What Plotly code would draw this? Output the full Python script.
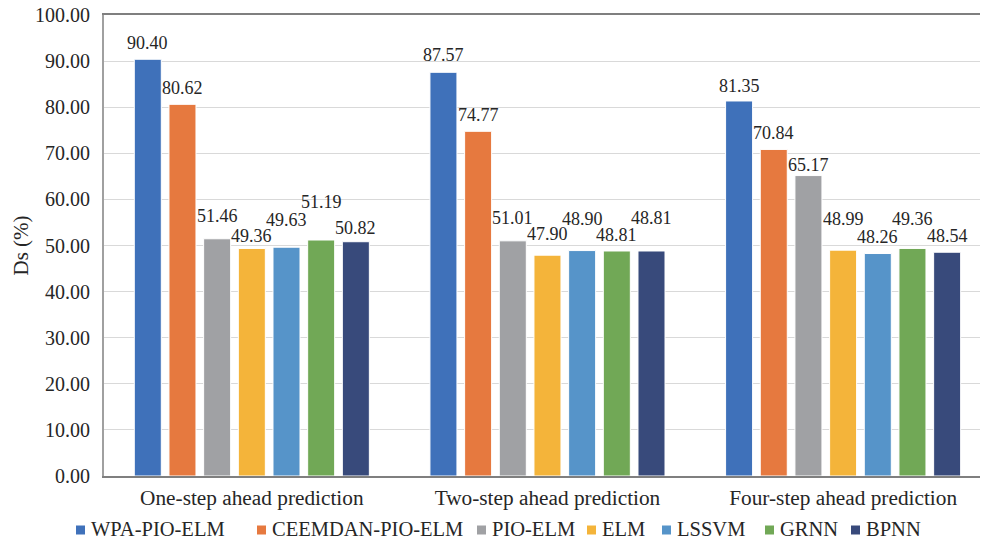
import plotly.graph_objects as go

# Prediction horizons (x categories)
horizons = ["One-step ahead prediction", "Two-step ahead prediction", "Four-step ahead prediction"]

# Model names and their Ds (%) per horizon
models = ["WPA-PIO-ELM", "CEEMDAN-PIO-ELM", "PIO-ELM", "ELM", "LSSVM", "GRNN", "BPNN"]
wpa_pio_elm = [90.40, 87.57, 81.35]
ceemdan_pio_elm = [80.62, 74.77, 70.84]
pio_elm = [51.46, 51.01, 65.17]
elm = [49.36, 47.90, 48.99]
lssvm = [49.63, 48.90, 48.26]
grnn = [51.19, 48.81, 49.36]
bpnn = [50.82, 48.81, 48.54]
series = [wpa_pio_elm, ceemdan_pio_elm, pio_elm, elm, lssvm, grnn, bpnn]

# y-axis tick values
y_ticks = [0, 10, 20, 30, 40, 50, 60, 70, 80, 90, 100]

# Styling
colors = ["#3F71BA", "#E6793F", "#A0A1A4", "#F4B43A", "#5694C9", "#71A856", "#384A7B"]
# Pixel lift of each value label above its bar (per model, per horizon) to keep labels apart
label_lift = [
    [16, 17, 15],
    [16, 16, 16.5],
    [23, 22.5, 11],
    [12.5, 20.7, 31.5],
    [27, 31.5, 17],
    [38, 16, 29],
    [13.5, 32.5, 16],
]
FONT = "Liberation Serif, Times New Roman, serif"
TEXT = "#262626"
BARGAP = 0.179
BARGROUPGAP = 0.221

# Figure / plot-area geometry in pixels
W, H = 981, 545
M_L, M_R, M_T, M_B = 104, 1, 15, 69
PLOT_W = W - M_L - M_R
PLOT_H = H - M_T - M_B
# Bottom legend: left pixel of each key square, and vertical centre
legend_key_px = [76, 257, 477, 587, 662, 765, 851]
legend_y_px = 530
KEY = 9  # key square size, px

fig = go.Figure()
for name, vals, col in zip(models, series, colors):
    fig.add_trace(go.Bar(
        name=name, x=horizons, y=vals, showlegend=False,
        marker=dict(color=col, line=dict(color="white", width=1)),
    ))

# Value labels placed over each grouped bar
n = len(models)
slot = (1 - BARGAP) / n
annotations = []
for j, (vals, lifts) in enumerate(zip(series, label_lift)):
    for i, (v, lift) in enumerate(zip(vals, lifts)):
        annotations.append(dict(
            x=i + (j - (n - 1) / 2) * slot, y=v, xref="x", yref="y",
            text=f"{v:.2f}", showarrow=False, yanchor="middle", yshift=lift,
            font=dict(family=FONT, size=18, color=TEXT),
        ))

# Horizontal legend drawn as key squares + labels below the axis
def px_to_paper_x(px):
    return (px - M_L) / PLOT_W

def px_to_paper_y(py):
    return (H - M_B - py) / PLOT_H

shapes = []
for name, col, kx in zip(models, colors, legend_key_px):
    shapes.append(dict(
        type="rect", xref="paper", yref="paper",
        x0=px_to_paper_x(kx), x1=px_to_paper_x(kx + KEY),
        y0=px_to_paper_y(legend_y_px + KEY / 2), y1=px_to_paper_y(legend_y_px - KEY / 2),
        fillcolor=col, line=dict(width=0),
    ))
    annotations.append(dict(
        x=px_to_paper_x(kx + KEY + 4), y=px_to_paper_y(legend_y_px - 1),
        xref="paper", yref="paper", xanchor="left", yanchor="middle",
        text=name, showarrow=False,
        font=dict(family=FONT, size=20.5, color=TEXT),
    ))

fig.update_layout(
    width=W, height=H,
    margin=dict(l=M_L, r=M_R, t=M_T, b=M_B),
    paper_bgcolor="white", plot_bgcolor="white",
    barmode="group", bargap=BARGAP, bargroupgap=BARGROUPGAP,
    font=dict(family=FONT, color=TEXT),
    annotations=annotations,
    shapes=shapes,
    showlegend=False,
    xaxis=dict(
        type="category", range=[-0.5, 2.463],
        showline=True, linecolor="#7F7F7F", linewidth=2, mirror=True,
        ticks="", tickfont=dict(family=FONT, size=21.3, color=TEXT),
        ticklabelstandoff=1,
        showgrid=False,
    ),
    yaxis=dict(
        range=[0, 100], tickvals=y_ticks, tickformat=".2f",
        showline=True, linecolor="#A0A0A0", linewidth=2,
        gridcolor="#D9D9D9", gridwidth=1,
        ticks="", tickfont=dict(family=FONT, size=20, color=TEXT),
        ticklabelstandoff=8,
        title=dict(text="Ds (%)", font=dict(family=FONT, size=21, color=TEXT), standoff=1),
        zeroline=False,
    ),
)

fig.write_html("out.html")
